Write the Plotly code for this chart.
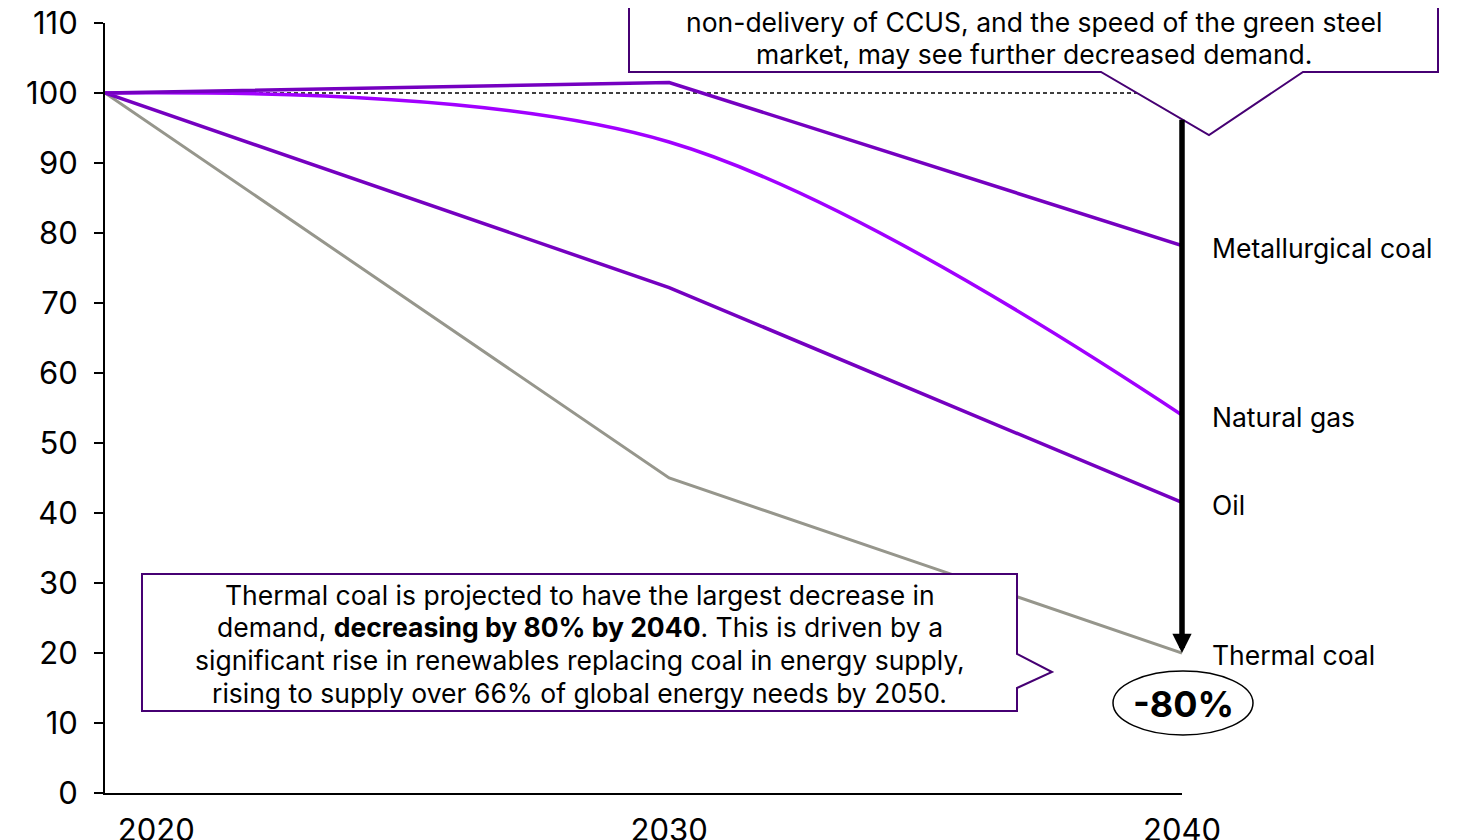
import plotly.graph_objects as go

# ---------------- data ----------------
YEARS = [2019, 2030, 2040]
MET_COAL = [100, 101.5, 78.2]
NAT_GAS = [100, 93.0, 54.0]
OIL = [100, 72.2, 41.5]
THERMAL_COAL = [100, 45.0, 20.0]
BASELINE = [100, 100]
BASE_YEARS = [2019, 2040]
X_TICKS = [2020, 2030, 2040]
Y_TICKS = list(range(0, 111, 10))

TOP_NOTE = [
    "support the market in the short term, whilst the possible",
    "non-delivery of CCUS, and the speed of the green steel",
    "market, may see further decreased demand.",
]
BOTTOM_NOTE = [
    "Thermal coal is projected to have the largest decrease in",
    "demand, <b>decreasing by 80% by 2040</b>. This is driven by a",
    "significant rise in renewables replacing coal in energy supply,",
    "rising to supply over 66% of global energy needs by 2050.",
]

# ---------------- style ----------------
DARK = "#7500C0"
BRIGHT = "#A100FF"
GREY = "#96968C"
BORDER = "#460073"
W, H = 1463, 840
OFF = 8  # page offset of the figure (body margin)
# plot area in page pixels: x 105..1182, y 23..793
L = 105 - OFF
T = 23 - OFF
R = W - (1182 - OFF)
B = H - (793 - OFF)
PW, PH = W - L - R, H - T - B

def px(x, y):
    """page pixel position -> paper coordinates"""
    return (x - OFF - L) / PW, (H - B - (y - OFF)) / PH

fig = go.Figure()

fig.add_trace(go.Scatter(x=BASE_YEARS, y=BASELINE, mode="lines",
                         line=dict(color="black", width=1.4, dash="4px,3px"),
                         hoverinfo="skip", showlegend=False))
fig.add_trace(go.Scatter(x=YEARS, y=THERMAL_COAL, mode="lines", name="Thermal coal",
                         line=dict(color=GREY, width=3), showlegend=False))
fig.add_trace(go.Scatter(x=YEARS, y=OIL, mode="lines", name="Oil",
                         line=dict(color=DARK, width=3.5), showlegend=False))
fig.add_trace(go.Scatter(x=YEARS, y=NAT_GAS, mode="lines", name="Natural gas",
                         line=dict(color=BRIGHT, width=3.5, shape="spline", smoothing=1),
                         showlegend=False))
fig.add_trace(go.Scatter(x=YEARS, y=MET_COAL, mode="lines", name="Metallurgical coal",
                         line=dict(color=DARK, width=3.5), showlegend=False))

shapes = []

def path_from(points):
    pts = [px(x, y) for x, y in points]
    return "M " + " L ".join(f"{a:.5f},{b:.5f}" for a, b in pts) + " Z"

# top callout
top_pts = [(629, -40), (1438, -40), (1438, 72), (1303, 72), (1209, 135),
           (1101, 72), (629, 72)]
shapes.append(dict(type="path", xref="paper", yref="paper", path=path_from(top_pts),
                   fillcolor="white", line=dict(color=BORDER, width=2), layer="above"))
# bottom callout
bot_pts = [(142, 574), (1017, 574), (1017, 654), (1052, 672), (1017, 688),
           (1017, 711), (142, 711)]
shapes.append(dict(type="path", xref="paper", yref="paper", path=path_from(bot_pts),
                   fillcolor="white", line=dict(color=BORDER, width=2), layer="above"))
# ellipse
ex0, ey0 = px(1113, 735)
ex1, ey1 = px(1253, 671)
shapes.append(dict(type="circle", xref="paper", yref="paper", x0=ex0, x1=ex1, y0=ey0, y1=ey1,
                   fillcolor="white", line=dict(color="black", width=1.5), layer="above"))
# right-edge grey strip
sx0, _ = px(1455, 0)
sx1, _ = px(1461, 0)
shapes.append(dict(type="rect", xref="paper", yref="paper", x0=sx0, x1=sx1,
                   y0=px(0, 900)[1], y1=px(0, 0)[1], fillcolor="#DCDCDC",
                   line=dict(width=0), layer="above"))

annotations = []
FAM = "Inter, Roboto, Arial, sans-serif"
TXT = dict(family=FAM, size=26.5, color="black")
LBL = dict(family=FAM, size=26.5, color="black")

# series end labels
for name, vals in [("Metallurgical coal", MET_COAL), ("Natural gas", NAT_GAS),
                   ("Oil", OIL), ("Thermal coal", THERMAL_COAL)]:
    annotations.append(dict(x=YEARS[-1], y=vals[-1], xref="x", yref="y", text=name,
                            showarrow=False, xanchor="left", yanchor="middle",
                            xshift=28, yshift=-2, font=LBL))

# arrow down to thermal coal end
annotations.append(dict(x=YEARS[-1], y=THERMAL_COAL[-1], xref="x", yref="y",
                        ax=YEARS[-1], ay=96.4, axref="x", ayref="y", text="",
                        showarrow=True, arrowhead=2, arrowsize=0.7, arrowwidth=5.5,
                        arrowcolor="black", standoff=0, startstandoff=0))

# -80%
cx, cy = px(1183, 704)
annotations.append(dict(x=cx, y=cy, xref="paper", yref="paper", text="<b>-80%</b>",
                        showarrow=False, xanchor="center", yanchor="middle",
                        font=dict(family=FAM, size=36, color="black")))

# callout texts, one annotation per line
def add_lines(lines, cx_px, ys_px):
    for line, ypx in zip(lines, ys_px):
        ax_, ay_ = px(cx_px, ypx)
        annotations.append(dict(x=ax_, y=ay_, xref="paper", yref="paper", text=line,
                                showarrow=False, xanchor="center", yanchor="middle",
                                font=TXT))

add_lines(TOP_NOTE, 1033.5, [-10.5, 22, 54.5])
add_lines(BOTTOM_NOTE, 579.5, [594.5, 627, 660, 692.5])

TICKFONT = dict(family=FAM, size=31, color="black")

fig.update_layout(
    width=W, height=H,
    margin=dict(l=L, r=R, t=T, b=B, autoexpand=False),
    paper_bgcolor="white", plot_bgcolor="white",
    showlegend=False,
    shapes=shapes, annotations=annotations,
    xaxis=dict(range=[YEARS[0], YEARS[-1]], tickvals=X_TICKS, ticktext=[str(v) for v in X_TICKS],
               showgrid=False, zeroline=False, showline=True, linecolor="black", linewidth=2,
               ticks="", tickfont=TICKFONT, ticklabelstandoff=9, ticklabeloverflow="allow",
               automargin=False),
    yaxis=dict(range=[0, 110], tickvals=Y_TICKS, showgrid=False, zeroline=False,
               showline=True, linecolor="black", linewidth=2, ticks="outside",
               ticklen=9, tickwidth=2, tickcolor="black", tickfont=TICKFONT,
               ticklabelstandoff=10, ticklabeloverflow="allow", automargin=False),
)

fig.write_html("out.html")
